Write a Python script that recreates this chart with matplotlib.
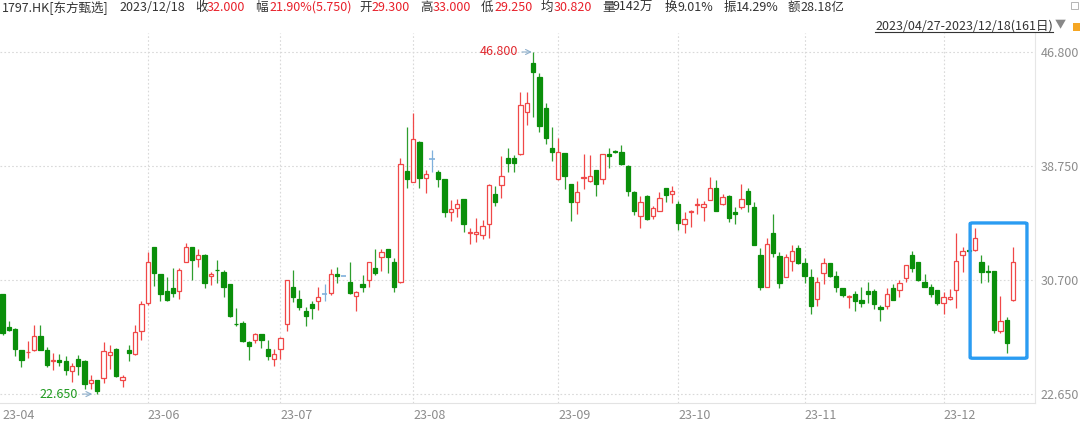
import numpy as np
import matplotlib
matplotlib.use('Agg')
import matplotlib.pyplot as plt
from matplotlib.patches import FancyBboxPatch, Rectangle

plt.rcParams['font.family'] = ['Noto Sans CJK SC', 'DejaVu Sans']

# daily OHLC, 2023/04/27 - 2023/12/18 (161 trading days)
opens = [29.71, 27.35, 27.24, 25.74, 25.60, 25.74, 26.73, 25.76, 24.98, 25.03,
         25.00, 24.30, 25.14, 25.00, 23.45, 23.62, 23.76, 25.39, 25.85, 23.64,
         25.76, 25.50, 27.12, 29.10, 33.00, 31.12, 29.92, 30.16, 29.92, 32.00,
         33.00, 32.16, 32.50, 31.00, 31.42, 31.24, 30.40, 27.61, 27.69, 26.35,
         26.44, 26.87, 25.83, 25.12, 25.83, 27.57, 30.19, 29.36, 28.51, 28.98,
         29.24, 29.71, 29.76, 31.12, 30.98, 30.54, 29.57, 30.42, 30.70, 31.53,
         32.35, 32.89, 31.95, 30.58, 38.40, 37.64, 40.45, 37.88, 39.24, 38.31,
         37.81, 35.52, 35.76, 36.42, 34.02, 33.95, 33.88, 34.63, 36.77, 37.41,
         39.29, 39.29, 39.58, 42.54, 46.00, 45.01, 42.82, 40.04, 37.81, 39.65,
         37.46, 36.23, 37.93, 37.71, 38.47, 37.81, 39.58, 39.81, 39.72, 38.77,
         36.94, 35.24, 36.65, 35.24, 35.57, 37.18, 36.77, 36.07, 34.68, 35.50,
         36.03, 35.83, 36.35, 37.22, 36.05, 36.63, 35.48, 35.83, 36.99, 35.83,
         32.47, 30.23, 34.04, 32.42, 30.94, 32.04, 32.98, 31.88, 30.94, 29.34,
         31.17, 31.88, 30.98, 30.11, 29.48, 29.71, 29.29, 29.92, 29.92, 28.82,
         28.87, 30.16, 29.99, 30.82, 32.47, 31.95, 30.58, 30.19, 29.99, 29.06,
         29.34, 30.00, 32.47, 32.83, 32.80, 31.99, 31.33, 31.34, 27.12, 27.88,
         29.30]
highs = [29.75, 27.80, 27.28, 25.76, 26.39, 27.50, 27.50, 25.95, 25.52, 25.50,
         25.35, 24.83, 25.44, 25.05, 24.00, 23.65, 26.34, 26.10, 25.88, 24.00,
         26.10, 27.50, 29.24, 32.70, 33.05, 31.15, 30.90, 31.53, 31.53, 33.29,
         33.05, 32.87, 32.55, 31.29, 32.10, 31.40, 30.45, 28.70, 27.83, 26.40,
         26.94, 26.90, 26.47, 25.83, 26.66, 30.70, 31.41, 30.00, 28.77, 29.22,
         30.19, 30.42, 31.48, 31.64, 30.98, 31.95, 29.90, 31.05, 31.97, 32.89,
         32.89, 32.92, 32.23, 39.29, 41.48, 42.52, 40.50, 38.47, 39.88, 38.47,
         37.85, 36.35, 36.40, 36.45, 34.40, 35.10, 34.94, 37.45, 37.36, 39.46,
         40.04, 39.53, 44.00, 44.00, 46.80, 45.34, 43.22, 41.48, 40.75, 39.68,
         37.50, 37.69, 39.58, 39.53, 38.50, 39.60, 40.04, 39.88, 40.23, 38.80,
         36.98, 36.63, 36.70, 35.93, 36.89, 37.20, 37.34, 36.28, 35.48, 35.64,
         36.47, 36.30, 37.95, 37.76, 36.77, 36.70, 35.83, 37.48, 37.18, 36.21,
         32.98, 33.69, 35.36, 32.66, 32.54, 33.15, 33.15, 32.23, 31.46, 30.89,
         32.28, 31.90, 31.36, 30.13, 29.62, 29.95, 30.23, 30.58, 30.04, 28.94,
         30.16, 30.42, 30.70, 31.76, 32.75, 31.97, 31.10, 30.42, 30.01, 29.87,
         30.04, 33.99, 33.05, 33.36, 34.35, 32.47, 31.76, 31.36, 29.57, 28.11,
         33.00]
lows = [26.80, 27.10, 25.36, 24.56, 25.17, 25.70, 25.76, 24.58, 24.37, 24.60,
        23.98, 23.50, 23.98, 23.00, 23.00, 22.65, 23.45, 24.40, 23.85, 23.17,
        25.00, 25.40, 26.46, 28.94, 30.30, 29.22, 29.22, 29.52, 29.34, 31.98,
        30.70, 31.64, 30.11, 30.35, 30.47, 29.48, 28.11, 27.45, 26.35, 25.05,
        26.23, 25.88, 25.08, 24.65, 25.12, 27.12, 29.17, 28.58, 27.47, 27.93,
        28.58, 29.24, 29.64, 30.47, 30.98, 29.74, 28.51, 29.83, 30.19, 31.05,
        31.36, 31.17, 29.87, 30.50, 37.18, 37.60, 37.22, 36.82, 38.35, 37.29,
        35.13, 34.89, 35.17, 34.11, 33.22, 33.36, 33.57, 33.64, 35.95, 36.51,
        38.35, 38.30, 39.50, 41.65, 42.23, 41.17, 40.30, 39.10, 37.78, 37.13,
        34.87, 35.36, 37.13, 37.64, 36.63, 37.48, 38.63, 39.65, 38.82, 36.63,
        35.29, 34.35, 34.94, 35.01, 35.55, 36.23, 36.12, 34.23, 34.00, 34.47,
        35.36, 34.89, 36.33, 35.55, 36.03, 34.82, 34.66, 35.69, 35.48, 33.15,
        29.99, 30.20, 32.35, 30.11, 30.92, 31.34, 31.81, 30.51, 28.28, 28.89,
        30.40, 30.94, 29.83, 29.52, 28.75, 28.51, 28.82, 29.06, 28.63, 27.81,
        28.63, 29.27, 29.52, 30.58, 31.29, 30.63, 30.21, 29.48, 28.94, 28.28,
        29.32, 28.70, 31.29, 32.59, 32.78, 30.51, 30.58, 26.98, 26.98, 25.53,
        29.25]
closes = [26.98, 27.15, 25.83, 25.05, 25.65, 26.73, 25.78, 24.68, 25.03, 24.90,
          24.35, 24.63, 24.65, 23.38, 23.64, 22.89, 25.69, 25.60, 23.92, 23.85,
          25.57, 27.05, 29.00, 31.95, 31.17, 29.69, 29.27, 29.80, 31.40, 33.00,
          32.10, 32.50, 30.47, 31.12, 31.38, 30.18, 28.18, 27.57, 26.42, 26.06,
          26.87, 26.47, 25.36, 25.48, 26.58, 30.68, 29.48, 28.82, 28.18, 28.70,
          29.48, 29.71, 31.10, 31.00, 30.98, 29.76, 29.87, 30.19, 31.95, 31.17,
          32.66, 32.30, 30.23, 38.89, 37.83, 40.64, 37.88, 38.17, 39.24, 37.81,
          35.52, 35.71, 36.05, 34.63, 34.06, 34.09, 34.51, 37.41, 36.19, 38.04,
          38.98, 38.98, 43.06, 43.18, 45.41, 41.57, 40.71, 39.76, 39.72, 38.04,
          36.23, 36.94, 37.97, 38.04, 37.48, 39.58, 39.46, 39.72, 38.89, 36.99,
          35.59, 36.19, 35.01, 35.76, 36.51, 36.70, 36.99, 34.70, 34.99, 35.60,
          36.07, 36.05, 37.22, 35.57, 36.58, 35.08, 35.34, 36.40, 36.05, 33.17,
          30.23, 33.22, 32.59, 30.51, 32.35, 32.77, 31.88, 30.98, 28.87, 30.58,
          31.92, 30.98, 30.19, 29.64, 29.60, 29.22, 29.10, 29.71, 28.98, 28.65,
          29.69, 29.29, 30.47, 31.74, 31.57, 30.70, 30.23, 29.71, 29.06, 29.48,
          29.52, 32.06, 32.75, 32.78, 33.65, 31.29, 31.29, 27.17, 27.81, 26.25,
          32.00]

month_labels = ['23-04', '23-06', '23-07', '23-08', '23-09', '23-10', '23-11', '23-12']
month_first_day = [0, 23, 44, 65, 88, 107, 127, 149]
price_ticks = [22.65, 30.70, 38.75, 46.80]

header_items = [('', '1797.HK[东方甄选]'), ('', '2023/12/18'), ('收', '32.000'),
                ('幅', '21.90%(5.750)'), ('开', '29.300'), ('高', '33.000'),
                ('低', '29.250'), ('均', '30.820'), ('量', '9142万'),
                ('换', '9.01%'), ('振', '14.29%'), ('额', '28.18亿')]
range_text = '2023/04/27-2023/12/18(161日)'

RED = '#f04848'
GREEN = '#0a8f0a'
BLUE = '#7fb0dc'
GRID = '#d9d9d9'
GRAY = '#8c8c8c'

W, H = 1080, 423
fig = plt.figure(figsize=(W / 100, H / 100), dpi=100)
ax = fig.add_axes([0, 20 / H, 1035 / W, 370 / H])

o = np.array(opens)
h = np.array(highs)
l = np.array(lows)
c = np.array(closes)
x = np.arange(len(c))
up = c > o
down = c < o
flat = c == o

wick_colors = np.where(up, RED, np.where(down, '#2e9e2e', BLUE))
ax.vlines(x, l, h, colors=wick_colors, lw=0.9, zorder=2)
ax.bar(x[up], c[up] - o[up], bottom=o[up], width=0.68, facecolor='white',
       edgecolor=RED, lw=0.9, zorder=3)
ax.bar(x[down], o[down] - c[down], bottom=c[down], width=0.68, facecolor=GREEN,
       edgecolor=GREEN, lw=0.9, zorder=3)
ax.hlines(c[flat], x[flat] - 0.4, x[flat] + 0.4, colors=BLUE, lw=1.2, zorder=3)

# axes frame: 6.316 px per day, first candle centred 2.5 px from the left
step = 6.316
ax.set_xlim(-2.5 / step, (1035 - 2.5) / step)
ax.set_ylim(22.02, 48.14)

for s in ['top', 'left']:
    ax.spines[s].set_visible(False)
ax.spines['right'].set_color('#e6e6e6')
ax.spines['bottom'].set_color('#e3e3e3')

ax.yaxis.tick_right()
ax.set_yticks(price_ticks)
ax.set_yticklabels(['%.3f' % p for p in price_ticks])
ax.tick_params(axis='y', length=0, pad=4, labelsize=9, labelcolor=GRAY)
ax.set_xticks(month_first_day)
ax.set_xticklabels(month_labels, ha='left')
ax.tick_params(axis='x', length=0, pad=4, labelsize=9, labelcolor=GRAY)
for lab in ax.get_xticklabels():
    lab.set_x(lab.get_position()[0])

for p in price_ticks:
    ax.axhline(p, color=GRID, lw=0.8, ls=(0, (1.5, 2)), zorder=0)
for d in month_first_day[1:]:
    ax.axvline(d, color=GRID, lw=0.8, ls=(0, (1.5, 2)), zorder=0)

# highest / lowest markers
imax = int(np.argmax(h))
imin = int(np.argmin(l))
ax.annotate('%.3f' % h[imax], xy=(imax - 0.2, h[imax]), xytext=(-14, 0),
            textcoords='offset pixels', ha='right', va='center', fontsize=9,
            color='#e0282e',
            arrowprops=dict(arrowstyle='->', color='#8fb0cc', lw=0.8,
                            shrinkA=1, shrinkB=0))
ax.annotate('%.3f' % l[imin], xy=(imin - 0.8, l[imin]), xytext=(-14, 0),
            textcoords='offset pixels', ha='right', va='center', fontsize=9,
            color='#1f9a1f',
            arrowprops=dict(arrowstyle='->', color='#8fb0cc', lw=0.8,
                            shrinkA=1, shrinkB=0))

# highlight box round the last week
box_left = 154 - 0.8
box_right = len(c) - 1 + 2.2
box_bottom = l[154:].min() - 0.35
box_top = h[154:].max() + 0.38
ax.add_patch(FancyBboxPatch((box_left, box_bottom), box_right - box_left,
                            box_top - box_bottom,
                            boxstyle='round,pad=0,rounding_size=0.4',
                            fill=False, edgecolor='#2a9cf2', lw=2.4, zorder=5,
                            mutation_aspect=0.15))

# header line
label_x = [2, 119, 195, 255, 359, 420, 481, 541, 602, 665, 724, 788]
value_x = [2, 119, 207, 269, 371, 433, 494, 554, 613, 678, 736, 800]
red_values = ['收', '幅', '开', '高', '低', '均']
ty = 1 - 7.5 / H
for (lab, val), lx, vx in zip(header_items, label_x, value_x):
    if lab:
        fig.text(lx / W, ty, lab, fontsize=9, color='#333333', va='center')
    col = '#e8202a' if lab in red_values else '#333333'
    fig.text(vx / W, ty, val, fontsize=9, color=col, va='center')

fig.text(875 / W, 1 - 26 / H, range_text, fontsize=9, color='#333333', va='center')
fig.add_artist(plt.Line2D([875 / W, 1053 / W], [1 - 32 / H, 1 - 32 / H],
                          color='#333333', lw=0.8))
fig.text(1055 / W, 1 - 25 / H, '▼', fontsize=8, color='#888888', va='center')
fig.add_artist(Rectangle((1073 / W, 1 - 31 / H), 7 / W, 8 / H,
                         facecolor='#f5a623', edgecolor='none'))
fig.add_artist(Rectangle((1071 / W, 1 - 9 / H), 7 / W, 7 / H,
                         facecolor='none', edgecolor='#aaaaaa', lw=0.6))

fig.savefig('out.png', dpi=100)
